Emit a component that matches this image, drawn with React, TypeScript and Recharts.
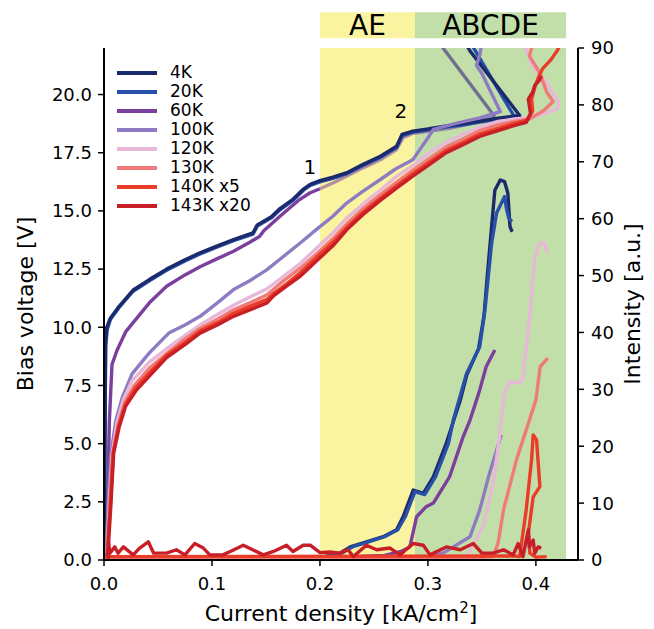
import React from 'react';
import { ComposedChart, Line, XAxis, YAxis, ReferenceArea, ReferenceDot, Legend } from 'recharts';

// legend entries
const temps = ['4K', '20K', '60K', '100K', '120K', '130K', '140K x5', '143K x20'];
const colors = ['#1a2a6c', '#2850a8', '#7b3f9e', '#8e7cc3', '#e8b8d8', '#f07a7a', '#ea3c26', '#c81e28'];

const xTicks = [0, 0.1, 0.2, 0.3, 0.4];
const vTicks = [0, 2.5, 5, 7.5, 10, 12.5, 15, 17.5, 20];
const iTicks = [0, 10, 20, 30, 40, 50, 60, 70, 80, 90];

// bias voltage curves, [current density, V]
const v4K = [[0, 0.3], [0.0008, 5], [0.0015, 9.4], [0.0025, 10.0], [0.006, 10.4], [0.014, 10.9], [0.027, 11.6], [0.042, 12.05], [0.058, 12.5], [0.075, 12.9], [0.089, 13.2], [0.105, 13.5], [0.12, 13.77], [0.138, 14.06], [0.142, 14.4], [0.155, 14.75], [0.163, 15.1], [0.175, 15.5], [0.185, 15.95], [0.191, 16.14], [0.2, 16.3], [0.212, 16.45], [0.225, 16.64], [0.24, 17.0], [0.256, 17.35], [0.271, 17.78], [0.276, 18.29], [0.286, 18.43], [0.3, 18.52], [0.317, 18.65], [0.333, 18.75], [0.348, 18.86], [0.365, 18.98], [0.385, 19.1], [0.339, 21.87], [0.33, 22.6]];
const v20K = [[0, 0.2], [0.0008, 4.5], [0.0015, 9.2], [0.003, 9.9], [0.006, 10.35], [0.014, 10.85], [0.027, 11.55], [0.042, 12.0], [0.058, 12.45], [0.075, 12.85], [0.089, 13.15], [0.105, 13.45], [0.12, 13.72], [0.138, 14.0], [0.142, 14.35], [0.155, 14.7], [0.163, 15.05], [0.175, 15.45], [0.185, 15.9], [0.191, 16.1], [0.2, 16.25], [0.212, 16.4], [0.225, 16.6], [0.24, 16.95], [0.256, 17.3], [0.271, 17.72], [0.276, 18.22], [0.286, 18.38], [0.3, 18.48], [0.317, 18.6], [0.333, 18.7], [0.348, 18.82], [0.365, 18.94], [0.38, 19.05], [0.336, 22.5]];
const v60K = [[0.002, 0.3], [0.0035, 3], [0.005, 6.0], [0.0074, 8.4], [0.012, 9.0], [0.02, 9.8], [0.027, 10.2], [0.042, 11.05], [0.058, 11.76], [0.075, 12.25], [0.089, 12.6], [0.105, 12.95], [0.12, 13.27], [0.135, 13.65], [0.144, 13.9], [0.148, 14.15], [0.163, 14.77], [0.18, 15.45], [0.191, 15.78], [0.2, 15.95]];
const v60Kover = [[0.2, 15.95], [0.212, 16.2], [0.225, 16.5], [0.24, 16.85], [0.256, 17.2], [0.271, 17.64], [0.277, 18.15], [0.286, 18.33], [0.3, 18.42], [0.32, 18.55], [0.34, 18.75], [0.362, 19.05]];
const v60Ktail = [[0.362, 19.05], [0.314, 22.0], [0.31, 22.4]];
const v100K = [[0.002, 0.3], [0.004, 2.5], [0.0065, 4.6], [0.011, 6.0], [0.017, 7.0], [0.026, 8.0], [0.042, 8.9], [0.06, 9.75], [0.075, 10.1], [0.089, 10.47], [0.105, 11.05], [0.12, 11.62], [0.135, 12.0], [0.151, 12.48], [0.165, 13.0], [0.182, 13.63], [0.198, 14.25], [0.212, 14.77], [0.225, 15.35], [0.24, 15.85], [0.256, 16.35], [0.27, 16.8], [0.286, 17.2], [0.292, 17.6], [0.299, 18.07], [0.305, 18.5], [0.325, 18.75], [0.348, 19.0], [0.367, 19.27], [0.35, 20.9], [0.345, 21.25], [0.348, 21.7], [0.351, 22.5]];
const v120K = [[0.003, 0.3], [0.005, 2.5], [0.0075, 4.5], [0.012, 5.9], [0.018, 6.9], [0.026, 7.7], [0.042, 8.5], [0.06, 9.15], [0.075, 9.65], [0.089, 10.1], [0.105, 10.55], [0.12, 10.95], [0.135, 11.3], [0.151, 11.65], [0.165, 12.15], [0.182, 12.75], [0.198, 13.45], [0.212, 14.05], [0.225, 14.7], [0.24, 15.3], [0.256, 15.9], [0.27, 16.45], [0.286, 16.95], [0.3, 17.45], [0.317, 17.95], [0.333, 18.3], [0.348, 18.6], [0.365, 18.85], [0.38, 18.95], [0.394, 19.0], [0.41, 19.2], [0.42, 19.4], [0.421, 19.65], [0.41, 20.5], [0.397, 21.2], [0.391, 21.9], [0.388, 22.5]];
const v130K = [[0.003, 0.3], [0.0055, 2.5], [0.008, 4.5], [0.013, 5.8], [0.019, 6.75], [0.028, 7.5], [0.042, 8.25], [0.06, 8.95], [0.075, 9.5], [0.089, 9.95], [0.105, 10.35], [0.12, 10.75], [0.135, 11.05], [0.151, 11.4], [0.165, 11.95], [0.182, 12.55], [0.198, 13.2], [0.212, 13.8], [0.225, 14.45], [0.24, 15.1], [0.256, 15.7], [0.27, 16.2], [0.286, 16.75], [0.3, 17.2], [0.317, 17.75], [0.333, 18.1], [0.348, 18.45], [0.365, 18.7], [0.38, 18.85], [0.394, 18.95], [0.407, 19.3], [0.416, 19.7], [0.41, 20.1], [0.404, 20.9], [0.394, 21.65], [0.396, 22.0], [0.395, 22.5]];
const v140K = [[0.003, 0.2], [0.006, 2.5], [0.0085, 4.6], [0.0135, 5.75], [0.0195, 6.65], [0.029, 7.4], [0.042, 8.05], [0.058, 8.8], [0.075, 9.35], [0.089, 9.85], [0.105, 10.2], [0.12, 10.6], [0.135, 10.9], [0.151, 11.2], [0.157, 11.45], [0.17, 11.9], [0.182, 12.35], [0.198, 13.05], [0.212, 13.65], [0.225, 14.3], [0.24, 14.95], [0.256, 15.55], [0.27, 16.05], [0.286, 16.6], [0.3, 17.05], [0.317, 17.6], [0.333, 17.95], [0.348, 18.3], [0.365, 18.55], [0.379, 18.75], [0.392, 18.9], [0.397, 19.3], [0.396, 19.8], [0.399, 20.3], [0.402, 20.7], [0.406, 21.1], [0.414, 21.5], [0.42, 21.9], [0.425, 22.4]];
const v143K = [[0.0035, 0.2], [0.0065, 2.45], [0.009, 4.6], [0.014, 5.7], [0.02, 6.6], [0.03, 7.3], [0.042, 7.9], [0.058, 8.7], [0.075, 9.25], [0.089, 9.75], [0.105, 10.1], [0.12, 10.47], [0.135, 10.75], [0.151, 11.05], [0.157, 11.35], [0.17, 11.8], [0.182, 12.2], [0.198, 12.9], [0.212, 13.5], [0.225, 14.2], [0.24, 14.85], [0.256, 15.45], [0.27, 15.95], [0.286, 16.49], [0.3, 16.95], [0.317, 17.5], [0.333, 17.85], [0.348, 18.2], [0.365, 18.45], [0.379, 18.65], [0.391, 18.8], [0.395, 19.2], [0.393, 19.8], [0.397, 20.1], [0.399, 20.4], [0.403, 20.6], [0.405, 20.8]];

// emission intensity curves, [current density, a.u.]
const i4K = [[0, 0.3], [0.1, 0.3], [0.2, 0.4], [0.2185, 1.2], [0.228, 2.3], [0.243, 3.2], [0.2586, 4.1], [0.271, 5.3], [0.277, 7.6], [0.2864, 12.3], [0.2957, 11.7], [0.305, 14.6], [0.317, 20.5], [0.324, 24.6], [0.33, 28.1], [0.336, 32.5], [0.347, 37.2], [0.352, 43], [0.355, 50], [0.359, 58.6], [0.362, 65], [0.367, 66.8], [0.371, 66.5], [0.374, 64.5], [0.376, 58.6], [0.378, 57.7]];
const i20K = [[0, 0.3], [0.1, 0.3], [0.2, 0.4], [0.22, 1.2], [0.23, 2.3], [0.245, 3.2], [0.26, 4.1], [0.272, 5.3], [0.279, 7.6], [0.288, 12.0], [0.297, 11.5], [0.307, 14.6], [0.319, 20.5], [0.3235, 24.6], [0.3358, 32.8], [0.348, 37.5], [0.3528, 43.9], [0.359, 55.7], [0.3636, 61], [0.371, 63.9], [0.373, 61.5], [0.375, 60], [0.378, 59.5]];
const i60K = [[0, 0.3], [0.2, 0.3], [0.26, 0.8], [0.275, 1.5], [0.2833, 2.3], [0.2895, 7.6], [0.298, 9.3], [0.305, 10], [0.32, 14.6], [0.3327, 21.7], [0.339, 24.6], [0.345, 28.1], [0.348, 29.9], [0.354, 34], [0.362, 36.9]];
const i100K = [[0, 0.3], [0.25, 0.3], [0.3, 0.6], [0.314, 1.2], [0.3235, 2.3], [0.339, 4.1], [0.348, 8.8], [0.357, 15.2], [0.368, 22]];
const i120K = [[0, 0.3], [0.3, 0.3], [0.336, 0.6], [0.351, 5.9], [0.3605, 13.5], [0.3667, 22.3], [0.37, 28.1], [0.372, 30], [0.376, 31.3], [0.385, 31.1], [0.388, 32.2], [0.394, 42.2], [0.399, 53.3], [0.404, 55.7], [0.408, 55.7], [0.411, 53.9]];
const i130K = [[0, 0.3], [0.33, 0.3], [0.3605, 0.6], [0.365, 3], [0.37, 8.8], [0.382, 17.6], [0.394, 24.6], [0.4, 28.1], [0.404, 34], [0.411, 35.5]];
const i140K = [[0, 0.6], [0.38, 0.7], [0.385, 0.6], [0.391, 8.8], [0.396, 17.6], [0.3975, 22], [0.4006, 21.1], [0.4037, 12.9], [0.3975, 11.1], [0.393, 4.7], [0.3944, 1.2], [0.4, 0.5], [0.41, 0.6]];
const i143K = [[0.004, 0.2], [0.004, 3.5], [0.0055, 1.2], [0.01, 2.3], [0.013, 1.2], [0.018, 2.3], [0.027, 0.9], [0.033, 2.1], [0.041, 3.2], [0.046, 1.2], [0.058, 1.2], [0.067, 1.8], [0.075, 0.9], [0.084, 2.9], [0.092, 2.1], [0.098, 0.9], [0.11, 0.9], [0.117, 1.5], [0.129, 2.6], [0.1475, 0.9], [0.157, 1.5], [0.169, 2.6], [0.175, 1.5], [0.1845, 2.6], [0.191, 2.6], [0.2, 1.3], [0.209, 1.4], [0.2185, 1.2], [0.226, 1.8], [0.231, 0.6], [0.243, 2.6], [0.2525, 1.8], [0.265, 2.1], [0.274, 0.9], [0.2864, 2.9], [0.2957, 2.6], [0.302, 0.9], [0.317, 2.3], [0.33, 1.8], [0.342, 2.9], [0.35, 1.2], [0.3605, 1.2], [0.37, 1.8], [0.379, 0.9], [0.3836, 2.9], [0.388, 0.6], [0.393, 5.3], [0.394, 2.3], [0.3975, 3.5], [0.399, 1.2], [0.402, 2.3], [0.405, 2.1]];

const voltage = [v4K, v20K, v60K, v100K, v120K, v130K, v140K, v143K];
const intensity = [i4K, i20K, i60K, i100K, i120K, i130K, i140K, i143K];

const pts = (arr: number[][]) => arr.map(([x, y]) => ({ x, y }));

const X_MAX = 0.439;
const AE: [number, number] = [0.2, 0.288];
const ABCDE: [number, number] = [0.288, 0.428];
const YELLOW = '#faf4a0';
const GREEN = '#c2dfaa';

const renderLegend = () => (
  <div style={{ display: 'flex', flexDirection: 'column' }}>
    {temps.map((t, i) => (
      <div key={t} style={{ display: 'flex', alignItems: 'center', height: 19 }}>
        <span style={{ width: 40, height: 4, background: colors[i], marginRight: 13 }} />
        <span style={{ fontSize: 17, lineHeight: '19px', color: '#000' }}>{t}</span>
      </div>
    ))}
  </div>
);

const lineProps = {
  type: 'linear' as const,
  dataKey: 'y',
  dot: false,
  strokeWidth: 3.4,
  strokeLinejoin: 'round' as const,
  isAnimationActive: false,
};

export default function App() {
  const tick = { fill: '#000', fontSize: 18 };
  return (
    <div style={{ position: 'absolute', left: 0, top: 0, fontFamily: 'DejaVu Sans', background: '#fff' }}>
      <ComposedChart width={654} height={629} margin={{ top: 48, right: 16, bottom: 29, left: 44 }}>
        <XAxis
          dataKey="x"
          type="number"
          domain={[0, X_MAX]}
          allowDataOverflow
          ticks={xTicks}
          tickFormatter={(v: number) => v.toFixed(1)}
          tick={tick}
          tickSize={6}
          tickMargin={11}
          height={40}
          axisLine={{ stroke: '#000', strokeWidth: 2 }}
          tickLine={{ stroke: '#000', strokeWidth: 1.5 }}
          label={{
            content: () => (
              <text x={341} y={621} textAnchor="middle" fontSize={22} fill="#000">
                Current density [kA/cm<tspan dy={-8} fontSize={15}>2</tspan>
                <tspan dy={8}>]</tspan>
              </text>
            ),
          }}
        />
        <XAxis
          xAxisId="top"
          orientation="top"
          type="number"
          domain={[0, X_MAX]}
          height={0}
          tick={false}
          tickLine={false}
          axisLine={{ stroke: '#000', strokeWidth: 2 }}
        />
        <YAxis
          yAxisId="left"
          type="number"
          domain={[0, 22]}
          allowDataOverflow
          ticks={vTicks}
          tickFormatter={(v: number) => v.toFixed(1)}
          tick={tick}
          tickSize={6}
          tickMargin={6}
          width={60}
          axisLine={{ stroke: '#000', strokeWidth: 2 }}
          tickLine={{ stroke: '#000', strokeWidth: 1.5 }}
          label={{
            content: () => (
              <text x={25} y={304} transform="rotate(-90 25 304)" textAnchor="middle" dominantBaseline="central" fontSize={22} fill="#000">
                Bias voltage [V]
              </text>
            ),
          }}
        />
        <YAxis
          yAxisId="right"
          orientation="right"
          type="number"
          domain={[0, 90]}
          allowDataOverflow
          ticks={iTicks}
          tick={tick}
          tickSize={6}
          tickMargin={7}
          width={60}
          axisLine={{ stroke: '#000', strokeWidth: 2 }}
          tickLine={{ stroke: '#000', strokeWidth: 1.5 }}
          label={{
            content: () => (
              <text x={632} y={304} transform="rotate(-90 632 304)" textAnchor="middle" dominantBaseline="central" fontSize={22} fill="#000">
                Intensity [a.u.]
              </text>
            ),
          }}
        />

        <ReferenceArea yAxisId="left" x1={AE[0]} x2={AE[1]} y1={0} y2={22} fill={YELLOW} fillOpacity={1} stroke="none" />
        <ReferenceArea yAxisId="left" x1={ABCDE[0]} x2={ABCDE[1]} y1={0} y2={22} fill={GREEN} fillOpacity={1} stroke="none" />
        <ReferenceArea
          yAxisId="left"
          x1={AE[0]}
          x2={AE[1]}
          y1={22.42}
          y2={23.54}
          ifOverflow="visible"
          fill={YELLOW}
          fillOpacity={1}
          stroke="none"
          label={{ value: 'AE', position: 'center', fontSize: 28, fill: '#000' }}
        />
        <ReferenceArea
          yAxisId="left"
          x1={ABCDE[0]}
          x2={ABCDE[1]}
          y1={22.42}
          y2={23.54}
          ifOverflow="visible"
          fill={GREEN}
          fillOpacity={1}
          stroke="none"
          label={{ value: 'ABCDE', position: 'center', fontSize: 28, fill: '#000' }}
        />

        {intensity.map((d, i) => (
          <Line key={'i' + temps[i]} {...lineProps} yAxisId="right" data={pts(d)} stroke={colors[i]} legendType="none" />
        ))}

        <Line {...lineProps} yAxisId="left" data={pts(v60K)} stroke={colors[2]} />
        <Line {...lineProps} yAxisId="left" data={pts(v60Kover)} stroke={colors[2]} strokeOpacity={0.55} />
        <Line {...lineProps} yAxisId="left" data={pts(v60Ktail)} stroke="#716f8f" />
        <Line {...lineProps} yAxisId="left" data={pts(v20K)} stroke={colors[1]} />
        <Line {...lineProps} yAxisId="left" data={pts(v4K)} stroke={colors[0]} />
        {voltage.slice(3).map((d, i) => (
          <Line key={'v' + temps[i + 3]} {...lineProps} yAxisId="left" data={pts(d)} stroke={colors[i + 3]} />
        ))}

        <ReferenceDot yAxisId="left" x={0.1907} y={16.87} r={0} fill="none" stroke="none"
          label={{ value: '1', position: 'center', fontSize: 20, fill: '#000' }} />
        <ReferenceDot yAxisId="left" x={0.275} y={19.28} r={0} fill="none" stroke="none"
          label={{ value: '2', position: 'center', fontSize: 20, fill: '#000' }} />

        <Legend
          layout="vertical"
          align="center"
          verticalAlign="middle"
          content={renderLegend}
          wrapperStyle={{ left: 117, top: 63, width: 'auto' }}
        />
      </ComposedChart>
    </div>
  );
}
